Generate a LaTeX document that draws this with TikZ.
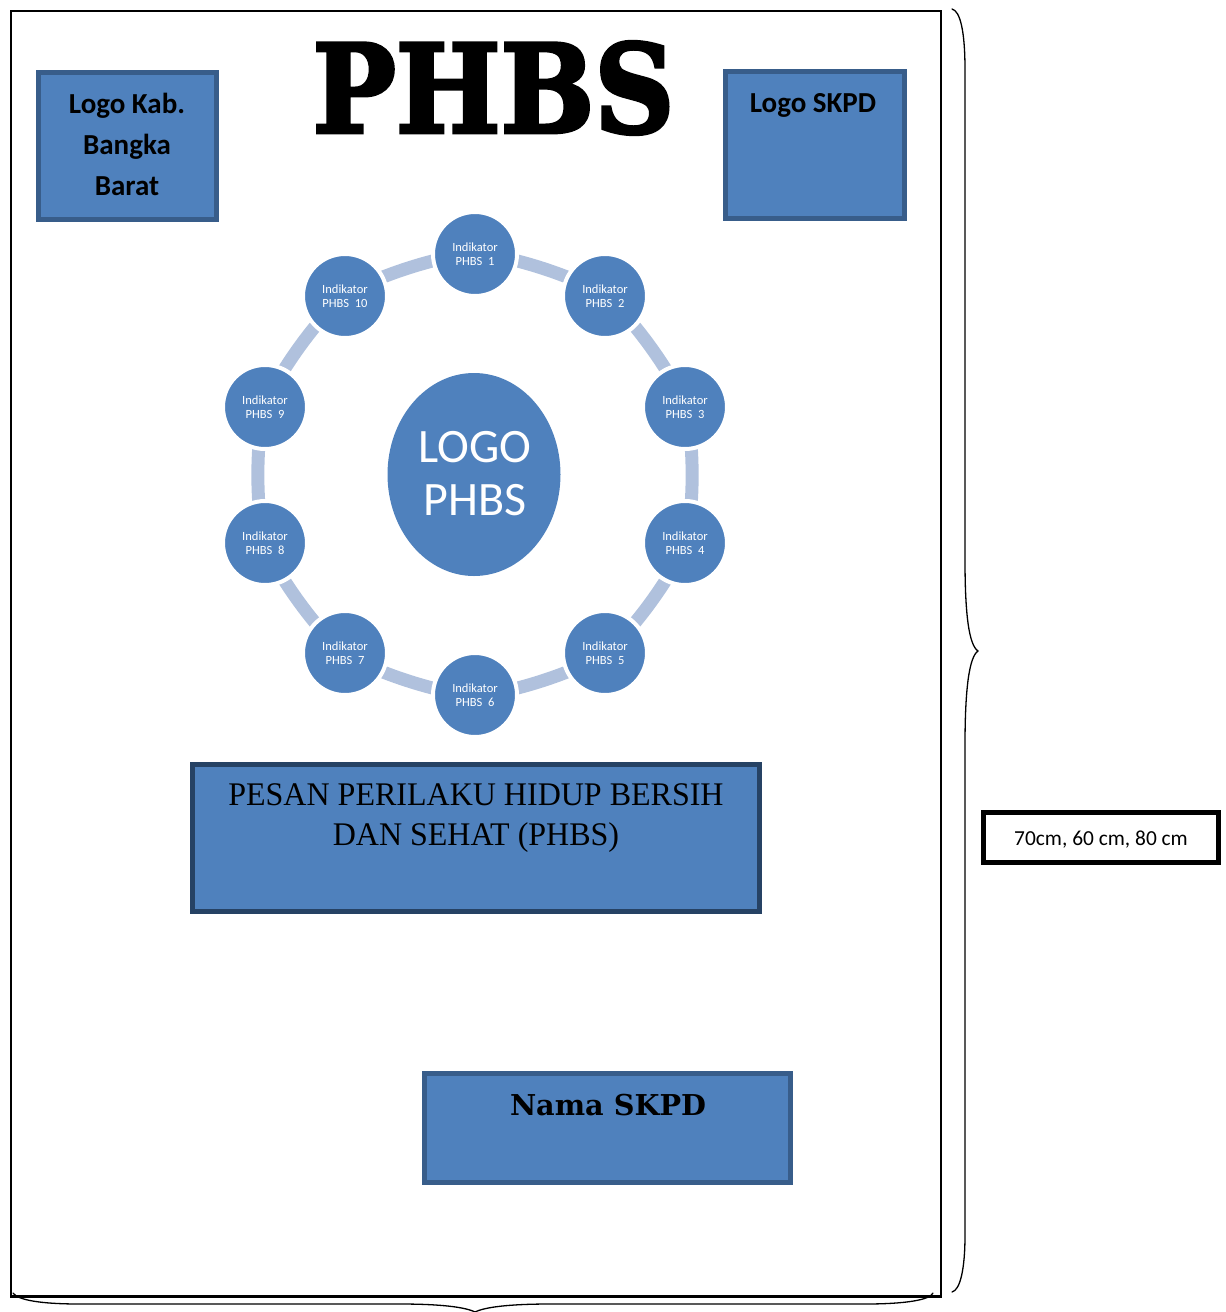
\documentclass[tikz,border=0pt]{standalone}
\usepackage{fontspec}
\usetikzlibrary{shapes.geometric,backgrounds}
\setmainfont{Carlito}
\newfontfamily\serifheavy{DejaVu Serif}
\newfontfamily\serifblack[FakeBold=3]{DejaVu Serif Bold}
\newfontfamily\serifplain{Liberation Serif}
\definecolor{blueA}{HTML}{4F81BD}
\definecolor{edgeA}{HTML}{385D8A}
\definecolor{edgeB}{HTML}{264264}
\definecolor{ringC}{HTML}{B0C1DD}
\tikzset{
  bluebox/.style={draw=edgeA,fill=blueA,line width=5pt,inner sep=0pt,outer sep=0pt,anchor=north west},
  circ/.style={circle,fill=blueA,draw=white,line width=4pt,minimum size=84pt,inner sep=0pt,outer sep=0pt,text=white,align=center,font=\fontsize{12.5}{14}\selectfont},
  ringarc/.style={draw=ringC,line width=13pt,line cap=butt,looseness=0.58},
  brace/.style={draw=black,line width=1.3pt,line cap=round},
  lbl/.style={inner sep=0pt,align=center}
}
\begin{document}
\begin{tikzpicture}[x=1pt,y=-1pt]
\useasboundingbox (0,0) rectangle (1226,1312);
% frame
\node[draw=black,line width=2pt,minimum width=930pt,minimum height=1286pt,inner sep=0,outer sep=0,anchor=north west] (frame) at (10.5,10.5) {};
\coordinate (bl) at (10,1296.5);
\coordinate (br) at (941,1296.5);
\draw[line width=3pt] (bl) -- (br);
% title
\node[lbl,font=\serifblack\fontsize{100}{100}\selectfont] (title) at (493.5,88) {\resizebox{362pt}{91pt}{PHBS}};
% top boxes
\node[bluebox,minimum width=178pt,minimum height=147pt] (logokab) at (38.5,72.5) {};
\node[lbl,font=\bfseries\fontsize{29}{41}\selectfont] (logokabt) at (127,144.5) {Logo Kab.\\Bangka\\Barat};
\node[bluebox,minimum width=179pt,minimum height=147pt] (logoskpd) at (725.5,71.5) {};
\node[lbl,font=\bfseries\fontsize{29}{32}\selectfont] (logoskpdt) at (813,105) {Logo SKPD};
% centre
\node[ellipse,fill=blueA,minimum width=173pt,minimum height=203pt,inner sep=0pt] (centre) at (474,474.5) {};
\node[lbl,text=white,font=\fontsize{48}{53}\selectfont] (centret) at (475,474) {LOGO\\PHBS};
% ring nodes
\node[circ] (n1) at (475,254) {Indikator\\PHBS\ \ 1};
\node[circ] (n2) at (605,296) {Indikator\\PHBS\ \ 2};
\node[circ] (n3) at (685,407) {Indikator\\PHBS\ \ 3};
\node[circ] (n4) at (685,543) {Indikator\\PHBS\ \ 4};
\node[circ] (n5) at (605,653) {Indikator\\PHBS\ \ 5};
\node[circ] (n6) at (475,695) {Indikator\\PHBS\ \ 6};
\node[circ] (n7) at (345,653) {Indikator\\PHBS\ \ 7};
\node[circ] (n8) at (265,543) {Indikator\\PHBS\ \ 8};
\node[circ] (n9) at (265,407) {Indikator\\PHBS\ \ 9};
\node[circ] (n10) at (345,296) {Indikator\\PHBS\ \ 10};
\begin{scope}[on background layer]
\foreach \a/\b in {n1/n2,n2/n3,n3/n4,n4/n5,n5/n6,n6/n7,n7/n8,n8/n9,n9/n10,n10/n1}
  \draw[ringarc] (\a.center) to[bend left=18] (\b.center);
\end{scope}
% message box
\node[bluebox,draw=edgeB,minimum width=567pt,minimum height=147pt] (pesan) at (192.5,764.5) {};
\node[lbl,font=\serifplain\fontsize{33}{40}\selectfont] (pesant) at (476,818) {\scalebox{0.97}[1]{PESAN PERILAKU HIDUP BERSIH}\\\scalebox{0.97}[1]{DAN SEHAT (PHBS)}};
% name box
\node[bluebox,minimum width=366pt,minimum height=109pt] (nama) at (424.5,1073.5) {};
\node[lbl,font=\serifheavy\bfseries\fontsize{29}{34}\selectfont] (namat) at (608,1105) {\resizebox{196pt}{!}{Nama SKPD}};
% dimension label
\node[draw=black,line width=5pt,minimum width=235pt,minimum height=50pt,inner sep=0,outer sep=0,anchor=north west,font=\fontsize{21.4}{25}\selectfont] (dim) at (983.5,812.5) {\raisebox{-8pt}[0pt][0pt]{70cm, 60 cm, 80 cm}};
% braces
\coordinate (rtop) at (952,9);
\coordinate (rtip) at (978,651);
\coordinate (rbot) at (952,1292);
\draw[brace] (rtop) .. controls (960,11) and (965,30) .. (965,70)
  -- (965,560) .. controls (965,615) and (969,645) .. (rtip)
  .. controls (969,657) and (965,690) .. (965,745)
  -- (965,1235) .. controls (965,1270) and (960,1290) .. (rbot);
\coordinate (btl) at (13,1293);
\coordinate (btip) at (475,1312);
\coordinate (btr) at (933,1293);
\draw[brace] (btl) .. controls (18,1300) and (40,1304) .. (80,1304)
  -- (400,1304) .. controls (440,1304) and (465,1307) .. (btip)
  .. controls (485,1307) and (510,1304) .. (550,1304)
  -- (865,1304) .. controls (905,1304) and (930,1300) .. (btr);
\end{tikzpicture}
\end{document}
